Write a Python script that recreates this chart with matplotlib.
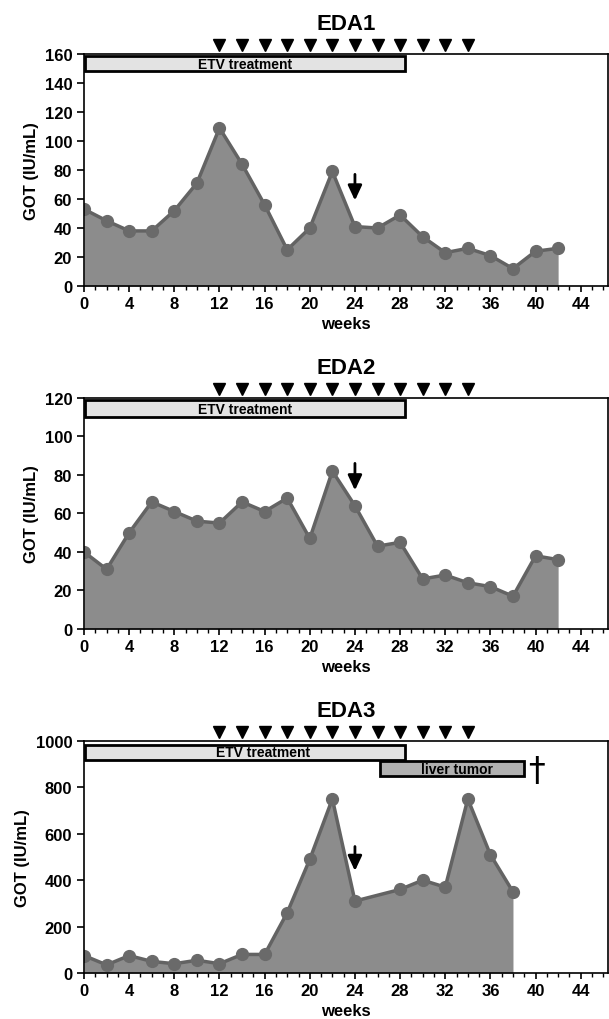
import matplotlib
matplotlib.use("Agg")
import matplotlib.pyplot as plt
from matplotlib.patches import Rectangle
from matplotlib.ticker import MultipleLocator

plt.rcParams['font.family'] = ['Liberation Sans', 'DejaVu Sans']
plt.rcParams['font.weight'] = 'bold'

weeks = list(range(0, 44, 2))
eda1 = [53, 45, 38, 38, 52, 71, 109, 84, 56, 25, 40, 79, 41, 40, 49, 34, 23, 26, 21, 12, 24, 26]
eda2 = [40, 31, 50, 66, 61, 56, 55, 66, 61, 68, 47, 82, 64, 43, 45, 26, 28, 24, 22, 17, 38, 36]
weeks3 = [0, 2, 4, 6, 8, 10, 12, 14, 16, 18, 20, 22, 24, 28, 30, 32, 34, 36, 38]
eda3 = [75, 35, 75, 50, 40, 55, 40, 80, 80, 260, 490, 750, 310, 360, 400, 370, 750, 510, 350]
dose_weeks = list(range(12, 36, 2))

panels = [
    # name, x, y, ymax, ystep, axes rect, etv bar (y0, y1), etv text x, arrow (top, tip)
    ("EDA1", weeks, eda1, 160, 20, [0.138, 0.7186, 0.860, 0.2275], (148, 158.5), 14.3, (77, 59)),
    ("EDA2", weeks, eda2, 120, 20, [0.138, 0.3824, 0.860, 0.2265], (110, 118.7), 14.3, (86, 72)),
    ("EDA3", weeks3, eda3, 1000, 200, [0.138, 0.0451, 0.860, 0.2275], (917, 984), 15.9, (545, 440)),
]

fig = plt.figure(figsize=(6.09, 10.2), dpi=100)

for name, x, y, ymax, ystep, rect, etv, etv_x, arr in panels:
    ax = fig.add_axes(rect)
    ax.fill_between(x, y, 0, color='#8c8c8c', lw=0)
    ax.plot(x, y, color='#636363', lw=2.5, marker='o', ms=8.5,
            markerfacecolor='#6a6a6a', markeredgecolor='#6a6a6a')
    ax.set_xlim(0, 46.4)
    ax.set_ylim(0, ymax)
    ax.xaxis.set_major_locator(MultipleLocator(4))
    ax.xaxis.set_minor_locator(MultipleLocator(1))
    ax.yaxis.set_major_locator(MultipleLocator(ystep))
    ax.tick_params(axis='x', direction='out', length=4.5, width=1.2, labelsize=12, pad=3)
    ax.tick_params(axis='x', which='minor', direction='out', length=2.8, width=1)
    ax.tick_params(axis='y', direction='out', length=5, width=1.2, labelsize=12)
    for s in ax.spines.values():
        s.set_linewidth(1.2)
    ax.set_xlabel('weeks', fontsize=12, fontweight='bold', labelpad=3)
    ax.set_ylabel('GOT (IU/mL)', fontsize=12, fontweight='bold')

    # ETV treatment bar
    ax.add_patch(Rectangle((0.1, etv[0]), 28.4 - 0.1, etv[1] - etv[0], facecolor='#e3e3e3',
                           edgecolor='black', lw=2, zorder=5))
    ax.text(etv_x, (etv[0] + etv[1]) / 2, 'ETV treatment', ha='center', va='center',
            fontsize=10, fontweight='bold', zorder=6)

    if name == "EDA3":
        ax.add_patch(Rectangle((26.2, 849), 39.0 - 26.2, 914 - 849, facecolor='#b0b0b0',
                               edgecolor='black', lw=2, zorder=5))
        ax.text(33.0, 881, 'liver tumor', ha='center', va='center',
                fontsize=10, fontweight='bold', zorder=6)
        ax.text(40.1, 873, '\u2020', ha='center', va='center', fontsize=24,
                fontweight='normal', family='DejaVu Sans')

    # dosing triangles above the axes
    ax.plot(dose_weeks, [ymax * 1.038] * len(dose_weeks), linestyle='none', marker='v',
            ms=9, color='black', clip_on=False)

    # arrow at week 24
    ax.annotate('', xy=(24, arr[1]), xytext=(24, arr[0]),
                arrowprops=dict(arrowstyle='-|>,head_length=0.6,head_width=0.28',
                                color='black', lw=2, mutation_scale=15,
                                shrinkA=0, shrinkB=0))

    ax.set_title(name, fontsize=16, fontweight='bold', x=0.5, pad=18)

fig.savefig('out.png', dpi=100)
